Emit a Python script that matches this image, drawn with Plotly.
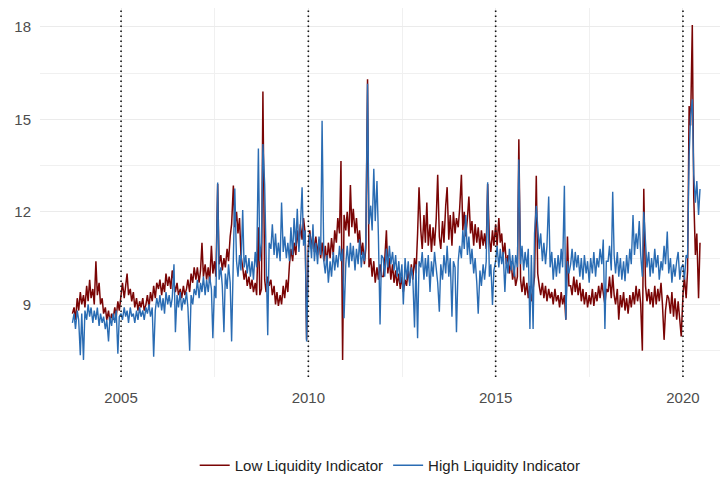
import pandas as pd
import plotly.graph_objects as go

# Semi-monthly readings (1st and 15th of each month), Sep 2003 - Jun 2020
start_date = "2003-09-15"

low_liquidity = [
    # 2003 (Sep 15 - Dec 15)
    8.7, 8.9, 8.5, 9.2, 8.8, 9.4, 9.0,
    # 2004
    9.3, 8.9, 9.6, 9.1, 9.8, 9.2, 9.5, 9.0, 10.4, 9.3, 9.7, 9.0, 9.2, 8.7, 8.9, 8.5, 8.8, 8.4, 8.7, 8.5, 8.9, 8.6, 9.1, 8.8,
    # 2005
    9.3, 9.7, 9.2, 9.6, 10.0, 9.3, 9.5, 9.1, 9.4, 8.9, 9.2, 8.8, 9.1, 8.9, 9.2, 8.8, 9.0, 9.3, 8.9, 9.4, 9.1, 9.6, 9.2, 9.7,
    # 2006
    9.5, 9.8, 9.3, 9.7, 9.4, 10.0, 9.6, 9.9, 9.5, 10.1, 9.6, 9.4, 9.7, 9.3, 9.5, 9.2, 9.6, 9.3, 9.5, 9.8, 9.4, 10.0, 9.7, 10.2,
    # 2007
    9.8, 10.2, 9.7, 10.1, 11.0, 9.9, 10.3, 9.8, 10.2, 9.7, 10.9, 10.0, 10.4, 9.9, 12.9, 10.3, 10.6, 10.1, 10.5, 10.2, 10.8, 10.4, 11.2, 11.6,
    # 2008
    12.85, 11.5, 12.0, 11.3, 11.8, 10.6, 10.2, 9.8, 10.1, 9.6, 9.9, 9.5, 9.8, 9.4, 9.7, 9.3, 11.5, 9.3, 9.5, 15.9, 9.8, 9.4, 9.9, 9.6,
    # 2009
    9.8, 9.3, 9.6, 9.0, 9.4, 8.95, 9.3, 9.0, 9.6, 9.2, 9.8, 9.4, 10.3, 10.8, 10.4, 11.0, 10.6, 11.4, 10.9, 11.6, 11.1, 11.8, 11.3, 7.85,
    # 2010
    10.9, 11.4, 10.8, 11.3, 10.7, 11.2, 10.6, 11.1, 10.5, 11.0, 10.4, 10.9, 10.3, 11.0, 10.5, 11.15, 10.6, 11.4, 11.0, 11.8, 11.3, 13.65, 7.2, 11.9,
    # 2011
    11.4, 12.0, 11.2, 12.87, 11.5, 12.1, 11.3, 11.8, 11.0, 11.4, 10.6, 11.0, 10.3, 10.8, 16.3, 10.2, 10.5, 9.9, 10.4, 9.7, 10.2, 9.8, 10.3, 9.9,
    # 2012
    9.9, 10.4, 11.4, 10.0, 10.5, 9.8, 10.3, 9.7, 10.1, 9.6, 10.0, 9.5, 9.9, 9.4, 9.8, 9.6, 10.1, 9.7, 10.3, 9.8, 10.5, 10.0, 11.3, 12.8,
    # 2013
    11.4, 10.8, 11.9, 11.0, 12.3, 10.9, 11.6, 10.7, 11.5, 10.9, 11.8, 13.2, 11.2, 10.8, 11.7, 11.0, 12.2, 12.8, 11.1, 11.9, 10.9, 12.0, 11.3, 11.8,
    # 2014
    11.5, 12.1, 13.2, 11.4, 12.0, 11.2, 11.8, 12.5, 11.3, 11.7, 10.9, 11.6, 11.0, 11.5, 10.8, 11.4, 10.9, 11.3, 10.8, 12.9, 11.1, 10.7, 11.4, 10.9,
    # 2015
    11.6, 10.9, 11.8, 11.0, 11.3, 10.6, 11.0, 10.3, 10.6, 10.0, 10.4, 9.8, 10.1, 9.6, 9.9, 14.35, 9.8, 9.4, 9.9, 9.3, 9.7, 9.2, 9.6, 9.1,
    # 2016
    9.5, 9.9, 13.17, 10.0, 9.6, 9.3, 9.7, 9.2, 9.6, 9.1, 9.5, 9.2, 9.4, 9.0, 9.5, 9.1, 9.3, 8.9, 9.4, 9.0, 9.3, 8.5, 11.2, 9.6,
    # 2017
    9.6, 9.3, 9.9, 9.4, 9.8, 9.3, 9.7, 9.1, 9.5, 9.0, 9.4, 8.9, 9.3, 9.0, 9.5, 8.95, 9.4, 9.1, 9.6, 9.2, 9.7, 9.3, 9.0, 9.5,
    # 2018
    9.4, 9.9, 9.2, 9.96, 9.3, 9.0, 9.5, 8.5, 9.3, 8.9, 9.4, 8.8, 9.2, 8.7, 9.3, 8.9, 9.4, 9.0, 9.6, 9.1, 9.5, 9.0, 7.5, 12.75,
    # 2019
    9.6, 9.1, 9.5, 9.0, 9.4, 8.9, 9.6, 9.0, 9.5, 9.1, 9.7, 9.0, 7.85, 8.8, 9.3, 9.2, 8.7, 9.4, 8.6, 9.2, 8.5, 9.1, 8.4, 7.96,
    # 2020 (Jan 1 - Jun 15)
    9.3, 9.9, 9.2, 10.1, 15.43, 14.8, 18.06, 12.5, 10.6, 11.3, 9.2, 11.0,
]

high_liquidity = [
    # 2003
    8.4, 8.7, 8.2, 8.8, 8.5, 7.35, 8.7,
    # 2004
    7.2, 8.8, 8.5, 9.0, 8.6, 8.9, 8.4, 8.8, 8.5, 8.9, 8.3, 8.7, 8.4, 8.6, 8.2, 8.5, 7.8, 8.6, 8.3, 8.7, 8.4, 8.8, 7.4, 8.6,
    # 2005
    8.7, 8.5, 8.9, 8.6, 8.8, 8.4, 8.9, 8.6, 8.7, 8.4, 8.8, 8.5, 8.9, 8.6, 8.8, 8.5, 8.9, 8.7, 9.0, 8.6, 8.9, 7.3, 8.8, 9.2,
    # 2006
    8.9, 9.3, 8.8, 9.2, 8.7, 9.4, 9.0, 9.3, 8.9, 9.2, 10.3, 8.1, 9.3, 8.9, 9.4, 8.8, 9.2, 9.0, 9.4, 8.9, 7.5, 9.3, 9.0, 9.5,
    # 2007
    9.3, 9.8, 9.2, 9.7, 9.4, 9.9, 9.3, 9.8, 9.4, 9.9, 9.5, 7.9, 9.6, 9.2, 12.95, 9.8, 10.2, 9.6, 8.1, 10.0, 9.5, 10.3, 9.7, 7.8,
    # 2008
    10.5, 12.76, 10.4, 9.9, 10.6, 10.1, 12.06, 10.2, 10.6, 10.0, 10.5, 9.9, 10.4, 9.8, 10.7, 10.2, 14.05, 10.4, 11.0, 14.2, 12.9, 10.8, 8.0, 11.0,
    # 2009
    10.8, 11.6, 10.6, 11.3, 10.5, 11.0, 10.4, 12.3, 10.7, 11.2, 10.5, 11.0, 10.4, 11.5, 10.6, 11.8, 10.9, 12.1, 10.7, 11.5, 12.8, 10.9, 11.4, 7.8,
    # 2010
    10.6, 11.3, 10.5, 11.6, 10.4, 11.0, 10.3, 11.2, 10.6, 14.95, 10.4, 10.0, 10.6, 9.7, 10.4, 9.9, 10.7, 10.1, 10.6, 10.2, 10.9, 10.4, 10.8, 8.55,
    # 2011
    10.3, 10.9, 10.2, 11.0, 10.4, 10.9, 10.1, 10.8, 10.3, 11.1, 10.2, 10.7, 10.4, 11.0, 16.15, 11.6, 12.2, 11.4, 13.4, 11.7, 13.0, 11.2, 8.35, 10.6,
    # 2012
    10.5, 9.9, 10.8, 10.2, 10.9, 10.3, 10.7, 10.1, 10.6, 9.9, 10.4, 9.7, 10.3, 9.0, 10.5, 9.8, 10.4, 9.6, 10.2, 9.9, 8.25, 10.3, 7.9, 10.4,
    # 2013
    10.2, 10.7, 9.8, 10.5, 9.9, 10.6, 9.4, 10.4, 9.9, 10.7, 10.1, 9.7, 8.76, 10.3, 9.8, 10.6, 10.0, 10.9, 9.9, 10.5, 8.6, 10.4, 10.2, 8.1,
    # 2014
    10.4, 10.9, 10.5, 11.4, 10.8, 11.9, 10.6, 11.2, 10.3, 10.8, 10.0, 10.5, 9.7, 8.7, 10.1, 9.6, 10.3, 9.8, 10.4, 12.96, 9.9, 10.3, 8.98, 10.1,
    # 2015
    10.4, 10.9, 10.2, 10.8, 10.3, 10.7, 9.4, 10.5, 10.0, 10.8, 10.1, 10.6, 9.9, 10.6, 10.2, 13.7, 10.3, 10.9, 10.1, 10.7, 10.2, 10.8, 8.2, 10.6,
    # 2016
    8.2, 11.3, 12.2, 11.6, 10.8, 11.3, 10.4, 11.0, 10.3, 10.9, 12.5, 10.2, 10.7, 9.8, 10.5, 9.9, 10.6, 10.0, 10.8, 10.2, 12.85, 8.5, 10.4, 10.0,
    # 2017
    10.3, 10.8, 10.1, 10.7, 10.2, 10.6, 9.9, 10.5, 9.8, 10.6, 10.0, 10.4, 9.7, 10.5, 10.0, 10.7, 9.9, 10.5, 10.2, 10.8, 10.3, 11.1, 8.2, 10.4,
    # 2018
    10.4, 10.9, 10.1, 12.65, 10.6, 10.0, 10.7, 9.9, 10.5, 9.8, 10.4, 9.75, 10.6, 10.0, 10.8, 10.3, 11.9, 10.6, 11.3, 10.8, 11.7, 10.6, 9.9, 12.0,
    # 2019
    10.8, 10.2, 10.7, 9.9, 10.5, 10.0, 10.8, 10.2, 10.6, 9.8, 10.4, 10.1, 10.9, 10.3, 11.36, 10.0, 10.5, 9.7, 10.3, 9.9, 10.4, 10.7, 9.8, 10.2,
    # 2020
    10.3, 9.8, 10.6, 10.5, 13.8, 15.1, 15.65, 13.2, 12.3, 13.0, 11.9, 12.74,
]

event_dates = ["2005-01-01", "2010-01-01", "2015-01-01", "2020-01-01"]
y_ticks = [9, 12, 15, 18]
y_minor = [7.5, 10.5, 13.5, 16.5]

low_dates = pd.date_range(start_date, periods=len(low_liquidity), freq="SMS")
high_dates = pd.date_range(start_date, periods=len(high_liquidity), freq="SMS")

fig = go.Figure()
fig.add_trace(go.Scatter(x=low_dates, y=low_liquidity, mode="lines",
                         name="Low Liquidity Indicator",
                         line=dict(color="#7a0505", width=1.5)))
fig.add_trace(go.Scatter(x=high_dates, y=high_liquidity, mode="lines",
                         name="High Liquidity Indicator",
                         line=dict(color="#2a6cb3", width=1.4)))

for d in event_dates:
    fig.add_shape(type="line", x0=d, x1=d, xref="x", yref="paper", y0=0, y1=1,
                  line=dict(color="#111111", width=1.6, dash="1.6px,3.4px"))

fig.update_layout(
    width=720, height=482,
    margin=dict(l=40, r=0, t=8, b=103),
    paper_bgcolor="white", plot_bgcolor="white",
    font=dict(family="Liberation Sans, Arial, sans-serif", size=15, color="#4d4d4d"),
    showlegend=True,
    legend=dict(orientation="h", x=0.515, xanchor="center", y=-0.24, yanchor="middle",
                font=dict(size=15, color="#222222"), bgcolor="rgba(0,0,0,0)"),
    xaxis=dict(
        type="date", range=["2002-11-03", "2020-12-27"],
        tick0="2005-01-01", dtick="M60", tickformat="%Y",
        showgrid=True, gridcolor="#ebebeb", gridwidth=1.1,
        minor=dict(tick0="2007-07-02", dtick="M60", showgrid=True,
                   gridcolor="#f0f0f0", gridwidth=0.8),
        showline=False, zeroline=False,
        ticks="outside", ticklen=7, tickcolor="rgba(0,0,0,0)",
        tickfont=dict(size=15, color="#4d4d4d"),
    ),
    yaxis=dict(
        range=[6.645, 18.61],
        tickvals=y_ticks,
        showgrid=True, gridcolor="#ebebeb", gridwidth=1.1,
        minor=dict(tickvals=y_minor, showgrid=True, gridcolor="#f0f0f0", gridwidth=0.8),
        showline=False, zeroline=False,
        ticks="outside", ticklen=5, tickcolor="rgba(0,0,0,0)",
        tickfont=dict(size=15, color="#4d4d4d"),
    ),
)

fig.write_html("out.html")
